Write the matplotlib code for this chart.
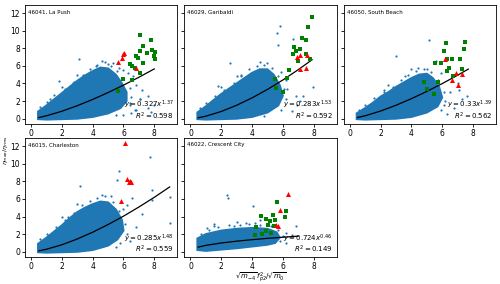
import matplotlib.pyplot as plt

# station names and fit annotations
names = ['46041, La Push', '46029, Garibaldi', '46050, South Beach',
         '46015, Charleston', '46022, Crescent City']
fit_a = ['0.327', '0.283', '0.33', '0.285', '0.724']
fit_b = ['1.37', '1.53', '1.39', '1.48', '0.46']
r2 = ['0.598', '0.592', '0.562', '0.559', '0.149']

# dense core of each point cloud (outline)
core_x = [
    [0.45, 0.45, 1.0, 1.5, 2.0, 2.5, 3.0, 3.5, 4.0, 4.5, 5.0, 5.5, 5.9, 6.2, 6.2, 5.8, 5.0, 4.0, 3.0, 2.0, 1.0],
    [0.45, 0.45, 1.0, 1.5, 2.0, 2.5, 3.0, 3.5, 4.0, 4.5, 5.0, 5.4, 5.8, 6.0, 5.7, 5.0, 4.0, 3.0, 2.0, 1.0],
    [0.45, 0.45, 1.0, 1.5, 2.0, 2.5, 3.0, 3.5, 4.0, 4.5, 5.0, 5.4, 5.8, 6.0, 5.7, 5.0, 4.0, 3.0, 2.0, 1.0],
    [0.45, 0.45, 1.0, 1.5, 2.0, 2.5, 3.0, 3.5, 4.0, 4.5, 5.0, 5.5, 5.9, 6.0, 5.6, 5.0, 4.0, 3.0, 2.0, 1.0],
    [0.45, 0.45, 1.0, 2.0, 3.0, 4.0, 5.0, 5.6, 5.8, 5.5, 5.0, 4.0, 3.0, 2.0, 1.0],
]
core_y = [
    [-0.05, 0.8, 1.5, 2.2, 2.9, 3.6, 4.3, 4.9, 5.4, 5.8, 5.7, 5.0, 4.0, 3.0, 2.0, 1.2, 0.6, 0.2, 0.0, -0.05, -0.1],
    [-0.05, 0.7, 1.4, 2.1, 2.8, 3.4, 4.0, 4.6, 5.2, 5.6, 5.6, 5.0, 3.8, 2.6, 1.5, 0.7, 0.2, 0.0, -0.05, -0.1],
    [-0.05, 0.6, 1.2, 1.8, 2.5, 3.0, 3.6, 4.1, 4.6, 5.0, 5.1, 4.6, 3.6, 2.4, 1.4, 0.7, 0.2, 0.0, -0.05, -0.1],
    [-0.05, 0.9, 1.6, 2.3, 3.0, 3.8, 4.5, 5.0, 5.4, 5.7, 5.6, 4.8, 3.6, 2.4, 1.4, 0.7, 0.2, 0.0, -0.05, -0.1],
    [0.2, 1.5, 2.0, 2.4, 2.6, 2.7, 2.6, 2.2, 1.6, 1.0, 0.8, 0.6, 0.4, 0.25, 0.1],
]

# points along the fuzzy edge of the core
edge_x = [
    [1.0, 1.5, 2.2, 2.8, 3.4, 3.8, 4.2, 4.6, 5.2, 5.6, 6.0, 6.4, 6.5, 6.4, 5.5, 2.0, 3.0, 0.6],
    [1.0, 1.6, 2.2, 2.8, 3.3, 3.8, 4.3, 4.8, 5.3, 5.7, 6.1, 6.2, 5.9, 2.0, 3.0, 0.6],
    [1.0, 1.6, 2.2, 2.8, 3.3, 3.8, 4.3, 4.8, 5.3, 5.7, 6.1, 6.2, 5.9, 2.5, 4.0, 0.6],
    [1.0, 1.6, 2.2, 2.8, 3.3, 3.8, 4.3, 4.8, 5.3, 5.7, 6.1, 6.2, 5.8, 2.0, 3.0, 0.6],
    [0.7, 1.2, 1.8, 2.5, 3.2, 3.8, 4.5, 5.2, 5.7, 6.0, 5.8, 1.5, 2.8, 4.2],
]
edge_y = [
    [1.9, 2.7, 3.4, 4.2, 5.0, 5.6, 6.0, 6.5, 6.0, 5.4, 4.6, 3.5, 2.5, 1.8, 0.4, 3.6, 5.0, 1.3],
    [1.8, 2.6, 3.3, 4.1, 4.9, 5.6, 6.0, 6.1, 5.8, 4.8, 3.4, 2.2, 1.0, 3.6, 4.8, 1.2],
    [1.6, 2.3, 3.0, 3.6, 4.4, 5.0, 5.4, 5.6, 5.3, 4.4, 3.0, 2.0, 1.0, 3.8, 5.6, 1.0],
    [2.0, 2.8, 3.6, 4.4, 5.3, 5.8, 6.1, 6.3, 5.6, 4.6, 3.2, 2.0, 1.0, 3.9, 5.4, 1.4],
    [2.0, 2.5, 2.8, 3.0, 3.0, 3.1, 3.0, 2.9, 2.5, 1.8, 1.2, 2.9, 2.9, 3.3],
]

# scattered points outside the core
pts_x = [
    [3.12, 1.78, 4.8, 5.0, 5.3, 5.7, 6.0, 6.3, 6.6, 6.8, 7.1, 7.2, 7.6, 7.8, 8.0, 6.8, 6.5, 6.0, 7.0, 7.08, 7.6, 6.75, 4.3, 2.7, 1.2, 6.4],
    [2.6, 5.8, 5.6, 6.66, 5.68, 7.96, 6.88, 7.3, 6.3, 6.9, 4.5, 5.0, 5.9, 6.2, 1.8, 3.3, 6.6, 7.1, 4.8],
    [3.0, 5.15, 5.63, 7.63, 7.3, 6.5, 6.8, 7.0, 4.4, 5.0, 6.1, 2.2, 3.6, 6.3, 7.1, 5.9],
    [3.19, 5.68, 5.57, 7.74, 7.85, 7.85, 9.0, 9.0, 6.55, 6.23, 6.0, 6.8, 5.2, 4.6, 2.4, 6.4, 7.2, 5.5],
    [2.38, 2.43, 4.08, 6.88, 6.18, 1.5, 3.0, 5.0, 6.2, 4.5, 3.6, 1.1, 6.6],
]
pts_y = [
    [6.74, 4.3, 6.4, 6.2, 6.3, 5.8, 5.5, 5.2, 4.8, 3.8, 2.2, 3.2, 1.2, 0.8, 1.5, 1.0, 0.6, 0.4, 5.3, 2.25, 2.6, 1.0, 6.1, 4.1, 2.2, 1.5],
    [6.3, 10.5, 9.7, 9.0, 8.4, 3.56, 2.6, 2.6, 3.4, 1.6, 6.4, 6.3, 5.3, 4.4, 3.7, 5.0, 0.9, 2.0, 0.3],
    [7.1, 8.9, 6.55, 2.6, 2.25, 3.0, 1.2, 4.0, 5.8, 5.6, 1.5, 3.3, 4.8, 0.5, 3.3, 5.2],
    [7.46, 9.14, 8.13, 10.8, 7.0, 5.9, 6.19, 3.28, 6.08, 5.34, 4.8, 2.8, 6.3, 6.5, 4.0, 1.2, 4.3, 0.5],
    [6.46, 6.08, 5.15, 2.91, 2.16, 3.1, 3.4, 3.2, 1.0, 3.6, 3.3, 2.7, 1.9],
]

# green squares
sq_x = [
    [7.05, 7.79, 7.25, 7.05, 7.53, 7.85, 8.03, 7.96, 6.81, 6.96, 7.27, 8.07, 6.42, 6.55, 6.77, 7.09, 5.97, 6.55, 5.64],
    [7.92, 7.64, 7.27, 7.53, 6.7, 6.87, 7.09, 6.66, 6.98, 7.53, 7.79, 6.4, 6.29, 5.47, 5.57, 6.0],
    [6.23, 7.46, 6.12, 7.41, 5.54, 5.9, 6.29, 6.62, 7.13, 6.44, 6.34, 7.26, 6.7, 4.83, 5.75, 5.04, 5.47],
    [],
    [5.62, 6.18, 6.12, 5.36, 4.56, 4.89, 5.15, 5.47, 5.04, 5.41, 4.24, 4.67, 4.93, 5.25, 4.17],
]
sq_y = [
    [9.55, 8.99, 8.24, 7.68, 7.49, 7.75, 7.6, 7.1, 7.1, 6.93, 6.37, 6.82, 6.18, 5.99, 5.8, 5.24, 4.49, 4.38, 3.18],
    [11.54, 10.37, 9.18, 8.99, 8.16, 7.68, 7.87, 7.3, 6.55, 7.3, 6.74, 5.54, 4.57, 4.49, 3.45, 3.07],
    [8.61, 8.69, 7.68, 7.87, 6.37, 6.37, 6.82, 6.74, 6.74, 5.8, 5.43, 5.62, 4.79, 4.12, 4.19, 3.37, 2.81],
    [],
    [5.6, 4.59, 3.96, 4.22, 4.03, 3.73, 3.47, 3.58, 2.99, 2.91, 2.84, 1.98, 2.35, 2.16, 1.9],
]

# red triangles
tri_x = [
    [5.62, 5.92, 6.05, 5.94, 6.83],
    [6.92, 7.1, 7.55, 7.1, 7.53],
    [6.19, 6.88, 7.3, 6.66, 7.03],
    [6.07, 6.25, 6.33, 6.44, 6.51, 5.84],
    [6.33, 5.79, 5.58, 5.69],
]
tri_y = [
    [6.44, 6.93, 7.49, 7.38, 5.8],
    [7.04, 7.2, 7.2, 5.62, 5.8],
    [6.82, 5.17, 5.06, 4.38, 3.82],
    [12.35, 8.21, 7.95, 8.0, 7.95, 5.82],
    [6.53, 4.7, 2.99, 2.91],
]

# fitted curves, sampled
fit_x = [
    [0.5, 1, 2, 3, 4, 5, 6, 7, 8],
    [0.5, 1, 2, 3, 4, 5, 6, 7, 7.9],
    [0.5, 1, 2, 3, 4, 5, 6, 7, 7.7],
    [0.5, 1, 2, 3, 4, 5, 6, 7, 8, 9],
    [0.5, 1, 2, 3, 4, 5, 6, 7],
]
fit_y = [
    [0.127, 0.327, 0.845, 1.473, 2.185, 2.966, 3.807, 4.70, 5.65],
    [0.098, 0.283, 0.817, 1.52, 2.36, 3.32, 4.39, 5.56, 6.69],
    [0.126, 0.33, 0.865, 1.52, 2.27, 3.09, 3.98, 4.93, 5.63],
    [0.102, 0.285, 0.795, 1.45, 2.22, 3.09, 4.04, 5.08, 6.18, 7.36],
    [0.526, 0.724, 0.996, 1.2, 1.37, 1.52, 1.65, 1.77],
]

blue = '#1f77b4'

fig, axes = plt.subplots(2, 3, figsize=(5, 2.84), dpi=100, sharey=True)
plt.subplots_adjust(left=0.05, right=0.992, top=0.982, bottom=0.095,
                    wspace=0.046, hspace=0.12)
axs = axes.flatten()
axs[5].axis('off')

for i in range(5):
    ax = axs[i]
    ax.fill(core_x[i], core_y[i], color=blue, lw=1.5, ec=blue, zorder=1)
    ax.scatter(edge_x[i], edge_y[i], s=2.5, color=blue, lw=0, zorder=1)
    ax.scatter(pts_x[i], pts_y[i], s=2.5, color=blue, lw=0, zorder=1)
    ax.plot(fit_x[i], fit_y[i], color='k', lw=0.9, zorder=2)
    ax.scatter(sq_x[i], sq_y[i], marker='s', s=11, color='green', lw=0, zorder=3)
    ax.scatter(tri_x[i], tri_y[i], marker='^', s=13, color='red', lw=0, zorder=4)
    ax.text(0.02, 0.965, names[i], transform=ax.transAxes, fontsize=4,
            va='top', ha='left')
    ax.text(0.975, 0.105, '$y = %sx^{%s}$' % (fit_a[i], fit_b[i]),
            transform=ax.transAxes, fontsize=5, ha='right', va='bottom')
    ax.text(0.975, 0.02, '$R^2 = %s$' % r2[i], transform=ax.transAxes,
            fontsize=5, ha='right', va='bottom')
    ax.set_xlim(-0.4, 9.5)
    ax.set_ylim(-0.6, 12.9)
    ax.set_xticks([0, 2, 4, 6, 8])
    ax.set_yticks([0, 2, 4, 6, 8, 10, 12])
    ax.tick_params(labelsize=5.5, length=2, width=0.6, pad=1.5)
    for sp in ax.spines.values():
        sp.set_linewidth(0.6)

axs[4].set_xlabel(r'$\sqrt{m_{-4}}\,f_{p2}^{2}/\sqrt{m_0}$', fontsize=5, labelpad=0)
fig.text(0.002, 0.47, r'$\eta_{max}/\eta_{rms}$', rotation=90, fontsize=4.5,
         ha='left', va='center')

fig.savefig('out.png', dpi=100)
